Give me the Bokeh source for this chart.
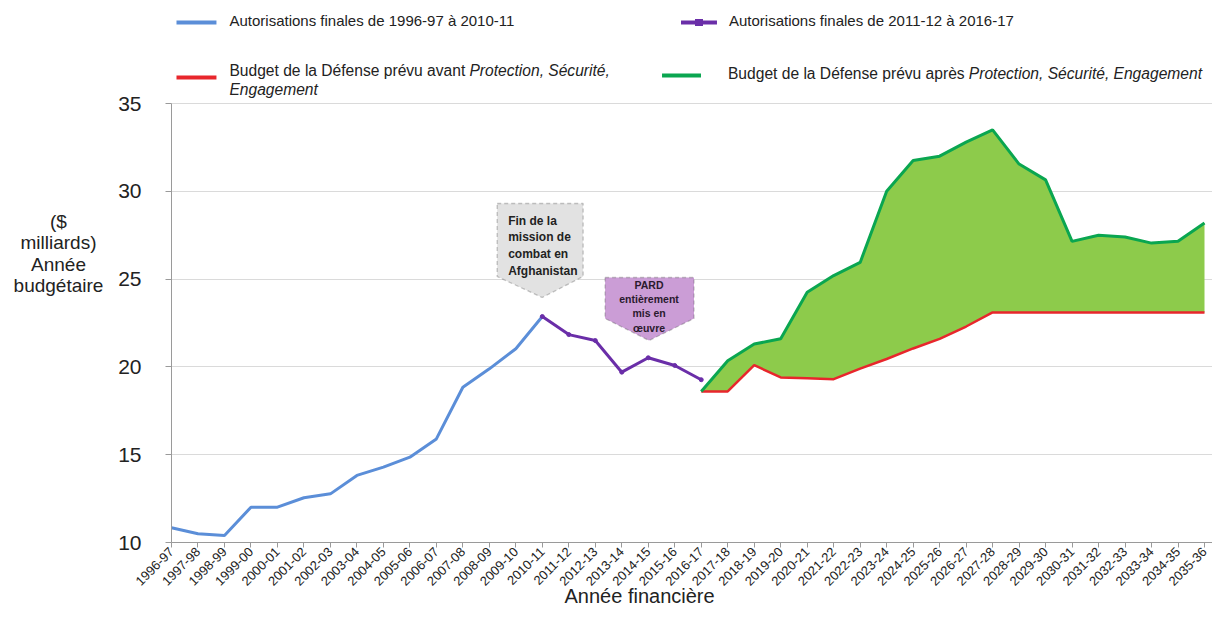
import numpy as np
from bokeh.plotting import figure
from bokeh.layouts import row
from bokeh.models import (Range1d, FixedTicker, Label, PolyAnnotation, BoxAnnotation, Title)
from bokeh.embed import file_html
from bokeh.resources import INLINE

# ---------------- data ----------------
years = ["1996-97", "1997-98", "1998-99", "1999-00", "2000-01", "2001-02", "2002-03",
         "2003-04", "2004-05", "2005-06", "2006-07", "2007-08", "2008-09", "2009-10",
         "2010-11", "2011-12", "2012-13", "2013-14", "2014-15", "2015-16", "2016-17",
         "2017-18", "2018-19", "2019-20", "2020-21", "2021-22", "2022-23", "2023-24",
         "2024-25", "2025-26", "2026-27", "2027-28", "2028-29", "2029-30", "2030-31",
         "2031-32", "2032-33", "2033-34", "2034-35", "2035-36"]

# Autorisations finales 1996-97 .. 2010-11
auth_early = [10.84, 10.50, 10.40, 12.01, 12.01, 12.55, 12.77, 13.82, 14.29, 14.86,
              15.90, 18.84, 19.89, 21.03, 22.87]
# Autorisations finales 2010-11 .. 2016-17
auth_late = [22.87, 21.84, 21.50, 19.70, 20.52, 20.08, 19.27]
# Budget prévu avant PSE (2016-17 .. 2035-36)
budget_before = [18.6, 18.6, 20.1, 19.4, 19.35, 19.3, 19.9, 20.45, 21.05, 21.6,
                 22.3, 23.1, 23.1, 23.1, 23.1, 23.1, 23.1, 23.1, 23.1, 23.1]
# Budget prévu après PSE (2016-17 .. 2035-36)
budget_after = [18.6, 20.35, 21.3, 21.6, 24.25, 25.2, 25.95, 30.0, 31.75, 32.0,
                32.8, 33.5, 31.55, 30.65, 27.15, 27.5, 27.4, 27.05, 27.15, 28.2]

x_early = list(range(0, 15))
x_late = list(range(14, 21))
x_budget = list(range(20, 40))

y_ticks = [10, 15, 20, 25, 30, 35]

# ---------------- layout helpers (page pixels) ----------------
W, H = 1212, 621
YW = 115                             # width of the strip holding the y title
FL, FR, FB = 170, 1204, 542          # frame left / last category / bottom (y=10)
PPU = 17.56                          # pixels per unit on y
XPU = (FR - FL) / (len(years) - 1)


def X(px):
    return (px - FL) / XPU


def Y(py):
    return 10 + (FB - py) / PPU


FONT = "Liberation Sans"
TXT = "#222222"

# ---------------- y-title strip ----------------
yt = figure(width=YW, height=H, x_range=Range1d(0, YW), y_range=Range1d(H, 0),
            min_border_left=0, min_border_right=0, min_border_top=0, min_border_bottom=0,
            output_backend="svg", toolbar_location=None)
yt.axis.visible = False
yt.grid.visible = False
yt.outline_line_color = None
yt.add_layout(Label(x=58, y=290, text="($\nmilliards)\nAnnée\nbudgétaire",
                    text_font=FONT, text_font_size="19px", text_color=TXT,
                    text_align="center", text_baseline="middle", text_line_height=1.02))

# ---------------- main chart ----------------
p = figure(width=W - YW, height=H, x_range=Range1d(0, X(W)),
           y_range=Range1d(10, Y(0)),
           min_border_left=FL - YW, min_border_right=0, min_border_bottom=H - FB,
           min_border_top=0, output_backend="svg", toolbar_location=None)
p.outline_line_color = None
p.background_fill_color = "white"
p.border_fill_color = "white"

p.xaxis.ticker = FixedTicker(ticks=list(range(len(years))))
p.xaxis.major_label_overrides = {i: y for i, y in enumerate(years)}
p.xaxis.major_label_orientation = np.pi / 4
p.xaxis.major_label_text_font = FONT
p.xaxis.major_label_text_font_size = "13px"
p.xaxis.major_label_text_color = TXT
p.xaxis.major_label_standoff = 2
p.xaxis.axis_line_color = "#9a9a9a"
p.xaxis.major_tick_line_color = "#9a9a9a"
p.xaxis.major_tick_out = 5
p.xaxis.major_tick_in = 0
p.xaxis.minor_tick_line_color = None

p.yaxis.ticker = FixedTicker(ticks=y_ticks)
p.yaxis.bounds = (y_ticks[0], y_ticks[-1])
p.yaxis.major_label_text_font = FONT
p.yaxis.major_label_text_font_size = "21px"
p.yaxis.major_label_text_color = TXT
p.yaxis.major_label_standoff = 24
p.yaxis.axis_line_color = "#9a9a9a"
p.yaxis.major_tick_line_color = "#9a9a9a"
p.yaxis.major_tick_out = 6
p.yaxis.major_tick_in = 0
p.yaxis.minor_tick_line_color = None

p.add_layout(Title(text="Année financière", align="left", offset=563 - FL, standoff=-20,
                   text_font=FONT, text_font_size="20px", text_font_style="normal",
                   text_color=TXT), "below")

p.xgrid.visible = False
p.ygrid.ticker = FixedTicker(ticks=y_ticks[1:])
p.ygrid.grid_line_color = "#dadada"
p.ygrid.grid_line_width = 1

# ---------------- data marks ----------------
p.varea(x=x_budget, y1=budget_before, y2=budget_after, fill_color="#8DCB4B")
p.line(x_early, auth_early, line_color="#5B8ED8", line_width=3)
p.line(x_late, auth_late, line_color="#6A2EA8", line_width=3)
p.scatter(x_late, auth_late, size=4, color="#6A2EA8")
p.line(x_budget, budget_before, line_color="#E8262C", line_width=2.5)
p.line(x_budget, budget_after, line_color="#0AA650", line_width=3)

# ---------------- callouts ----------------
p.add_layout(PolyAnnotation(
    xs=[X(496), X(582), X(582), X(541), X(496)],
    ys=[Y(203), Y(203), Y(276), Y(297), Y(276)],
    fill_color="#E2E2E2", fill_alpha=1, line_color="#444444",
    line_dash="4 3", line_width=1.3, level="underlay"))
p.add_layout(Label(x=X(507), y=Y(213), text="Fin de la\nmission de\ncombat en\nAfghanistan",
                   text_font=FONT, text_font_style="bold", text_font_size="12px",
                   text_color=TXT, text_align="left", text_baseline="top",
                   text_line_height=1.2))

p.add_layout(PolyAnnotation(
    xs=[X(604), X(693), X(693), X(648), X(604)],
    ys=[Y(277), Y(277), Y(318), Y(340), Y(318)],
    fill_color="#CB9DD6", fill_alpha=1, line_color="#444444",
    line_dash="4 3", line_width=1.3, level="underlay"))
p.add_layout(Label(x=X(648), y=Y(278), text="PARD\nentièrement\nmis en\nœuvre",
                   text_font=FONT, text_font_style="bold", text_font_size="10.5px",
                   text_color="#2a1a2e", text_align="center", text_baseline="top",
                   text_line_height=1.2))

# ---------------- legend (manual, to allow italic parts) ----------------
def swatch(px0, px1, py, color, thick=4):
    p.add_layout(BoxAnnotation(left=X(px0), right=X(px1), bottom=Y(py + thick / 2),
                               top=Y(py - thick / 2), fill_color=color, fill_alpha=1,
                               line_color=None))


def text(px, py, s, style="normal", size=15):
    p.add_layout(Label(x=X(px), y=Y(py), text=s, text_font=FONT,
                       text_font_size=f"{size}px",
                       text_font_style=style, text_color=TXT,
                       text_align="left", text_baseline="middle"))


swatch(175, 215, 22, "#5B8ED8")
text(228, 20, "Autorisations finales de 1996-97 à 2010-11")

swatch(680, 716, 22, "#6A2EA8")
swatch(694, 702, 22, "#6A2EA8", thick=7)
text(728, 20, "Autorisations finales de 2011-12 à 2016-17")

S2 = 15.6
swatch(175, 215, 77, "#E8262C")
text(228, 70, "Budget de la Défense prévu avant ", size=S2)
text(228 + 15.398 * S2, 70, "Protection, Sécurité,", style="italic", size=S2)
text(228, 89, "Engagement", style="italic", size=S2)

swatch(661, 700, 75, "#0AA650")
text(727, 73, "Budget de la Défense prévu après ", size=S2)
text(727 + 15.453 * S2, 73, "Protection, Sécurité, Engagement", style="italic", size=S2)

layout = row(yt, p)
open("out.html", "w").write(file_html(layout, INLINE))
